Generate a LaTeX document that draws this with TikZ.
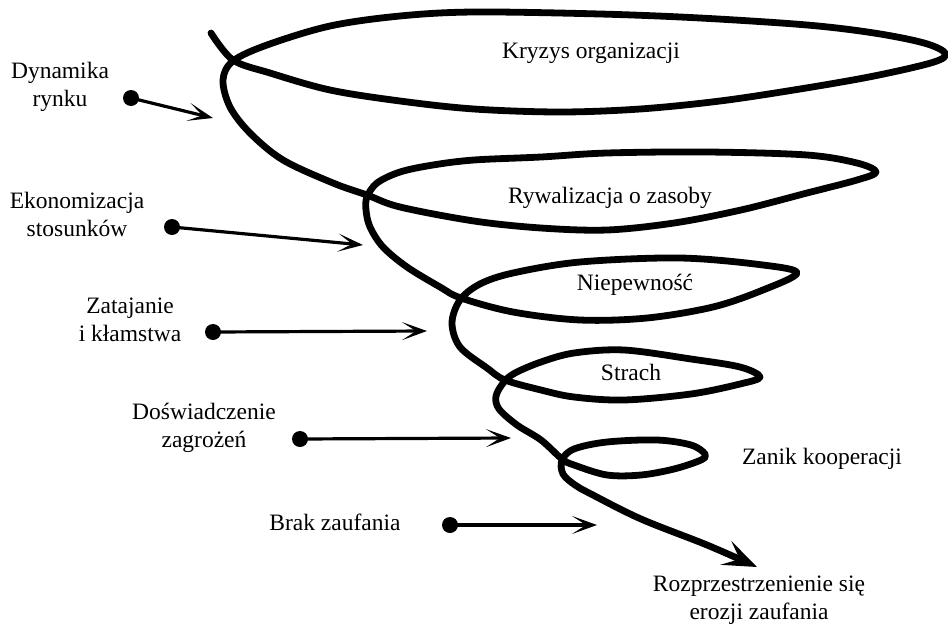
\documentclass[tikz,border=0pt]{standalone}
\usepackage{fontspec}
\setmainfont{Liberation Serif}
\usetikzlibrary{arrows.meta}

\begin{document}
\begin{tikzpicture}[x=1pt,y=-1pt,
    lbl/.style={font=\fontsize{23.5}{28}\selectfont, align=center, inner sep=0pt},
    dot/.style={circle, fill=black, inner sep=0pt, minimum size=16pt},
    feed/.style={-{Stealth[length=25pt,width=18pt,inset=14pt]}, line width=3.2pt},
    spiral/.style={line width=6.8pt, line join=round, line cap=round,
        -{Stealth[length=34pt,width=26pt,inset=15pt]}}]
    \useasboundingbox (0,0) rectangle (948,624);

    % Spiral (tornado)
    \draw[spiral] plot[smooth, tension=0.55] coordinates {
        (211,33) (233,60) (270,73) (330,90) (400,101) (474,109) (560,112)
        (640,109) (720,101) (800,89) (874,76) (934,62) (945,53) (924,43)
        (874,33) (807,25) (700,18) (600,14) (474,12) (400,16) (330,26)
        (267,45) (233,61) (223,80) (230,107) (250,133) (283,160) (333,183)
        (367,195) (400,207) (474,221) (541,228) (607,230) (674,223)
        (741,210) (807,193) (857,180) (876,172) (857,163) (807,155)
        (707,152) (607,153) (541,157) (474,160) (433,165) (400,172)
        (377,183) (367,197) (366,210) (370,227) (383,247) (407,267)
        (440,287) (461,298) (513,312) (580,320) (647,318) (713,307)
        (763,290) (797,273) (763,265) (680,258) (580,262) (513,273)
        (480,284) (460,300) (452,323) (460,347) (487,368) (505,380)
        (541,390) (574,397) (624,400) (691,394) (740,384) (760,377)
        (740,367) (691,359) (624,350) (574,353) (541,362) (515,373)
        (504,382) (496,396) (499,409) (517,425) (541,440) (562,459)
        (574,465) (607,475) (641,475) (674,469) (701,460) (705,454)
        (691,445) (657,440) (607,442) (574,449) (562,460) (563,474)
        (575,485) (591,494) (641,519) (707,545) (757,567)};

    % Levels of the spiral
    \node[lbl] (kryzys) at (591,53) {Kryzys organizacji};
    \node[lbl] (rywal) at (610,198) {Rywalizacja o zasoby};
    \node[lbl] (niepew) at (635,285) {Niepewność};
    \node[lbl] (strach) at (631,372) {Strach};
    \node[lbl] (zanik) at (822,459) {Zanik kooperacji};
    \node[lbl] (erozja) at (759,600) {Rozprzestrzenienie się\\erozji zaufania};

    % Causes on the left
    \node[lbl] (dyn) at (60,87) {Dynamika\\rynku};
    \node[lbl] (ekon) at (77,214) {Ekonomizacja\\stosunków};
    \node[lbl] (zataj) at (130,320) {Zatajanie\\i kłamstwa};
    \node[lbl] (dosw) at (204,428) {Doświadczenie\\zagrożeń};
    \node[lbl] (brak) at (335,522) {Brak zaufania};

    % Dots and arrows
    \node[dot] (dDyn) at (131,98) {};
    \node[dot] (dEkon) at (172,227) {};
    \node[dot] (dZataj) at (213,332) {};
    \node[dot] (dDosw) at (300,439) {};
    \node[dot] (dBrak) at (450,525) {};
    \coordinate (eDyn) at (213,118);
    \coordinate (eEkon) at (363,245);
    \coordinate (eZataj) at (427,331);
    \coordinate (eDosw) at (511,438);
    \coordinate (eBrak) at (597,525);
    \draw[feed] (dDyn.center) -- (eDyn);
    \draw[feed] (dEkon.center) -- (eEkon);
    \draw[feed] (dZataj.center) -- (eZataj);
    \draw[feed] (dDosw.center) -- (eDosw);
    \draw[feed] (dBrak.center) -- (eBrak);
\end{tikzpicture}
\end{document}
